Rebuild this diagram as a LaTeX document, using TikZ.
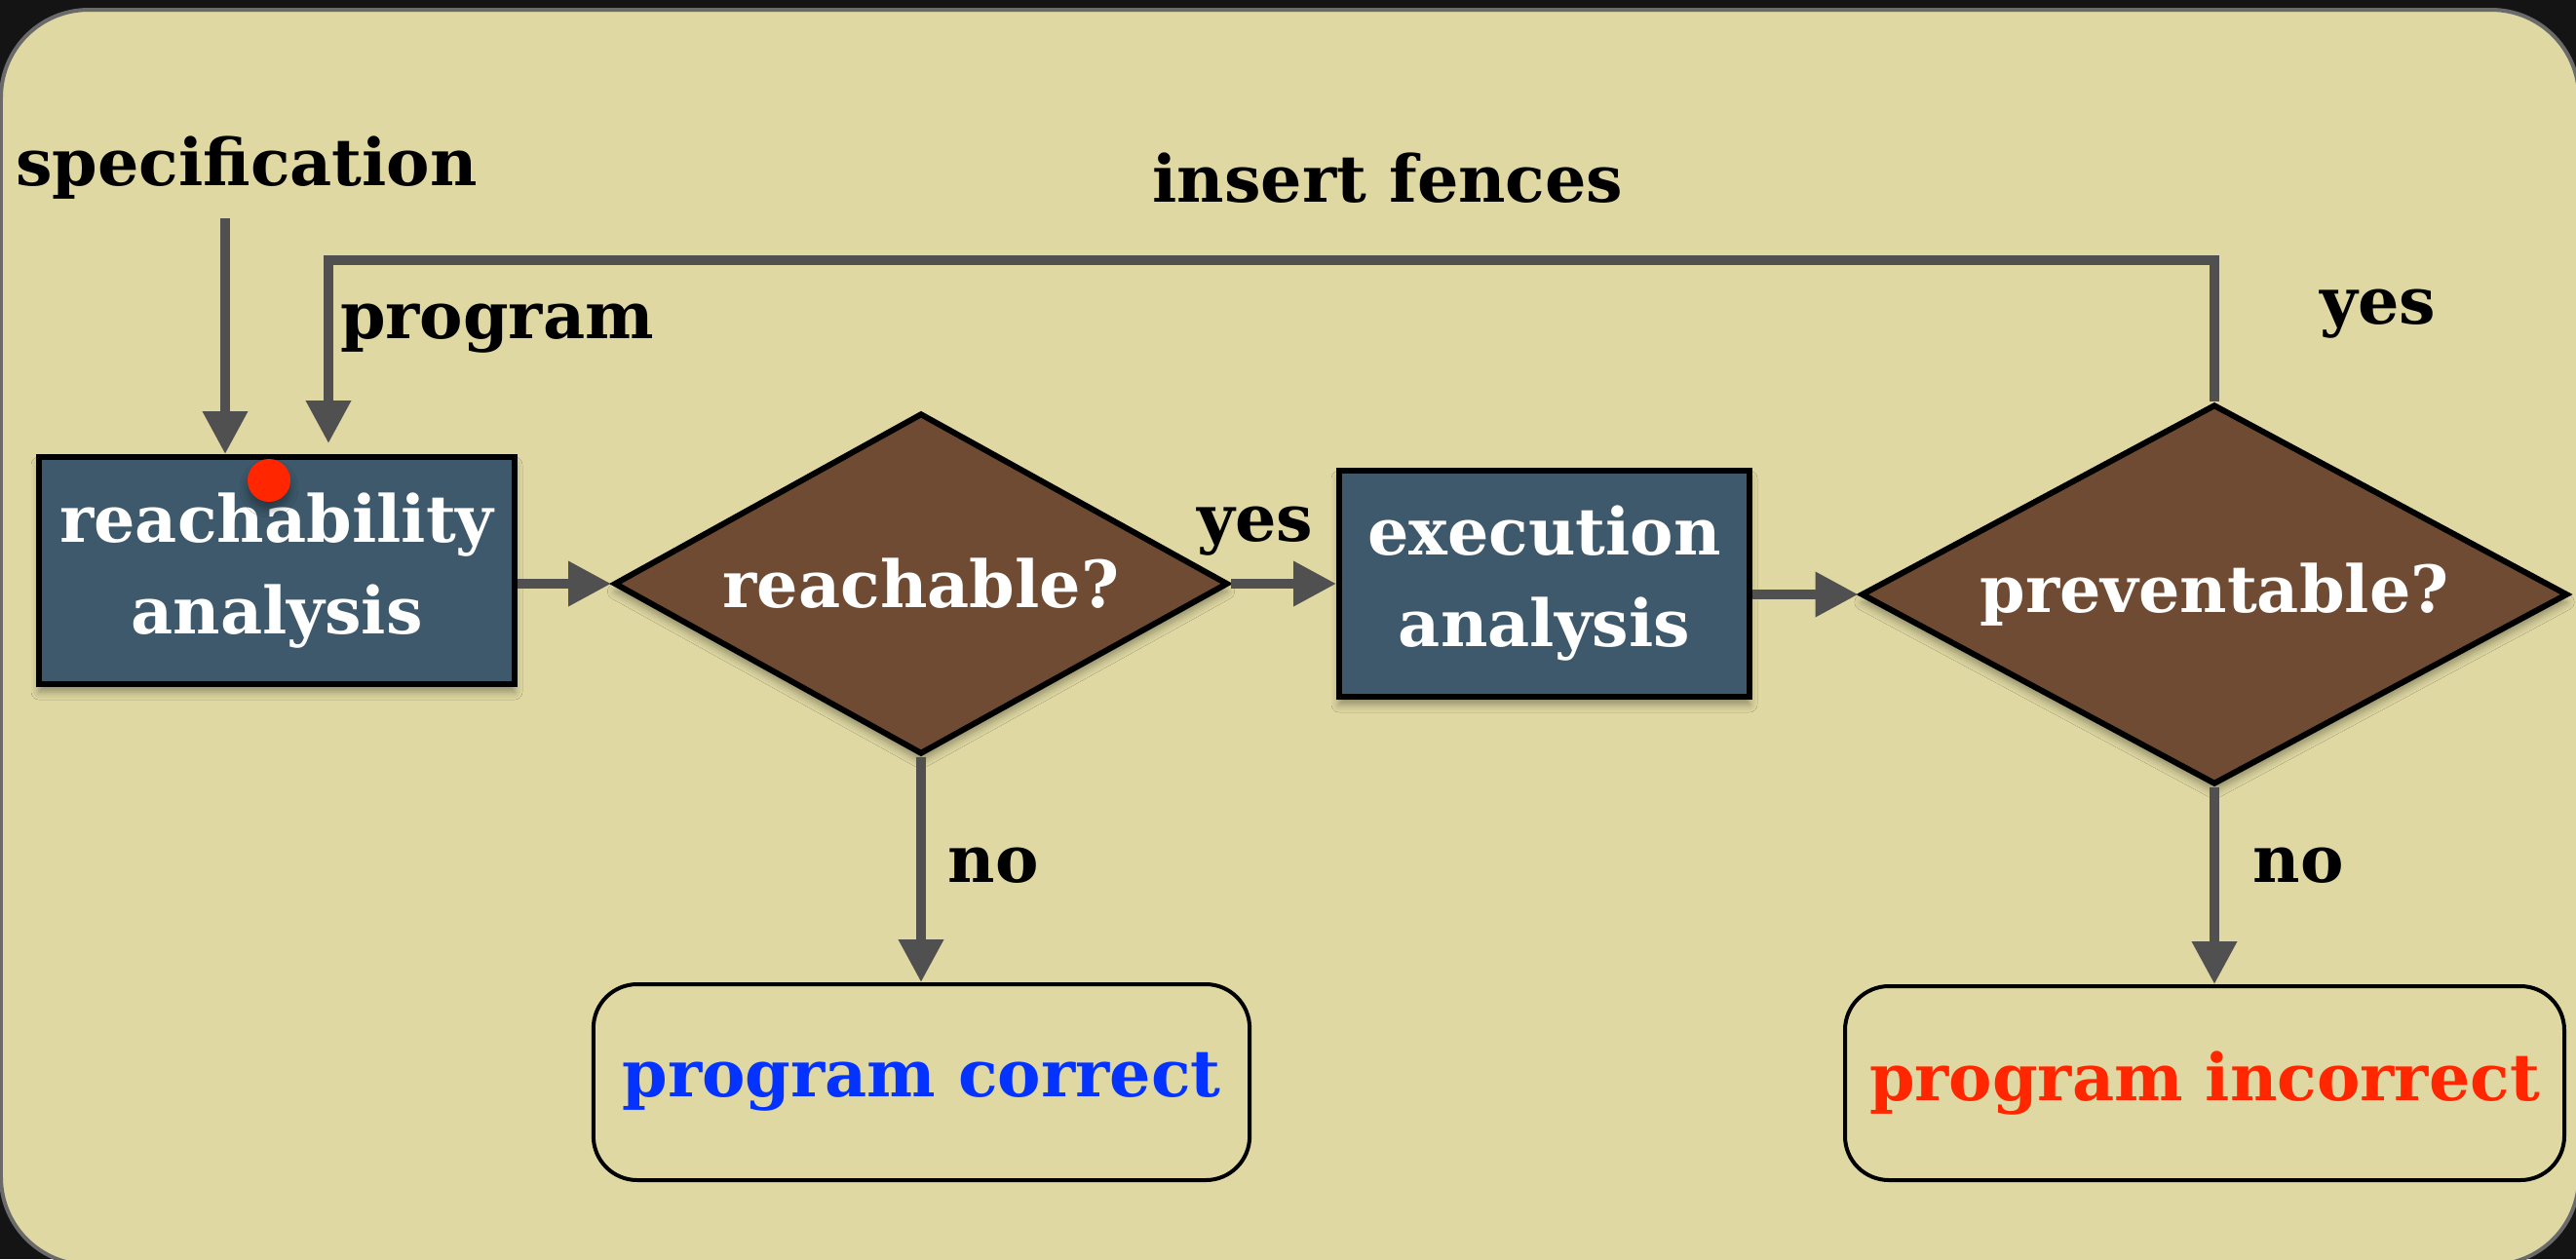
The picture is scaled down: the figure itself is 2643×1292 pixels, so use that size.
\documentclass[tikz,border=0pt]{standalone}
\usepackage{fontspec}
\setmainfont{DejaVu Serif}
\usetikzlibrary{arrows.meta,shapes.geometric,shadows.blur}

\definecolor{paper}{HTML}{DFD8A3}
\definecolor{frame}{HTML}{6A6A6A}
\definecolor{slate}{HTML}{3D596B}
\definecolor{bark}{HTML}{6F4B33}
\definecolor{wire}{HTML}{505050}
\definecolor{okblue}{HTML}{0433FF}
\definecolor{badred}{HTML}{FF2600}

\begin{document}
\begin{tikzpicture}[x=0.3pt,y=-0.3pt,
  every node/.style={font=\fontsize{20}{28.2}\selectfont\bfseries},
  shade/.style={blur shadow={shadow xshift=0pt,shadow yshift=-2.4pt,
      shadow blur radius=2.4pt,shadow opacity=35}},
  proc/.style={draw=black,line width=1.8pt,fill=slate,text=white,
      align=center,inner sep=0pt,shade},
  test/.style={diamond,draw=black,line width=1.8pt,fill=bark,text=white,
      inner sep=0pt,shade},
  outcome/.style={draw=black,line width=1.2pt,rounded corners=13.5pt,
      inner sep=0pt},
  flow/.style={draw=wire,line width=3pt,
      -{Triangle[length=13.2pt,width=13.2pt]}},
  tag/.style={anchor=base,text=black}]

%% slide background
\useasboundingbox (0,0) rectangle (2643,1292);
\fill[black!92] (0,0) rectangle (2643,1292);
\draw[fill=paper,draw=frame,line width=1.2pt,rounded corners=27pt]
  (1,10) rectangle (2646,1298);

%% steps and tests
\node[proc,minimum width=146.4pt,minimum height=69.9pt]
  (reach) at (284,585.5) {reachability\\analysis};
\node[test,shape aspect=1.8,minimum width=189pt,minimum height=105pt]
  (reachable) at (945,599) {reachable?};
\node[proc,minimum width=126.3pt,minimum height=69.6pt]
  (exec) at (1584.5,599) {execution\\analysis};
\node[test,shape aspect=1.86,minimum width=217.5pt,minimum height=117pt]
  (prev) at (2272,610) {preventable?};

\node[outcome,minimum width=202pt,minimum height=60.3pt,text=okblue]
  (correct) at (945.5,1110.5) {program correct};
\node[outcome,minimum width=221.4pt,minimum height=59.7pt,text=badred]
  (incorrect) at (2262,1111.5) {program incorrect};

\node[circle,fill=badred,inner sep=0pt,minimum size=13.2pt,shade]
  (pin) at (276,493) {};

%% labels
\node[tag] (spec) at (253,190) {specification};
\node[tag] (prog) at (510,347) {program};
\node[tag] (fences) at (1424,207) {insert fences};
\node[tag] (yesB) at (2440,332) {yes};
\node[tag] (yesA) at (1288,555) {yes};
\node[tag] (noA) at (1019,905) {no};
\node[tag] (noB) at (2358,905) {no};

\coordinate (specin) at (231,224);
\coordinate (loop) at (337,267);

%% connectors
\draw[flow] (specin) -- (specin |- reach.north);
\draw[flow,shorten >=3.3pt] (prev.north) |- (loop) -- (loop |- reach.north);
\draw[flow] (reach.east |- reachable.west) -- (reachable.west);
\draw[flow] (reachable.east) -- (exec.west |- reachable.east);
\draw[flow] (exec.east |- prev.west) -- (prev.west);
\draw[flow] (reachable.south) -- (correct.north -| reachable.south);
\draw[flow] (prev.south) -- (incorrect.north -| prev.south);

\end{tikzpicture}
\end{document}
